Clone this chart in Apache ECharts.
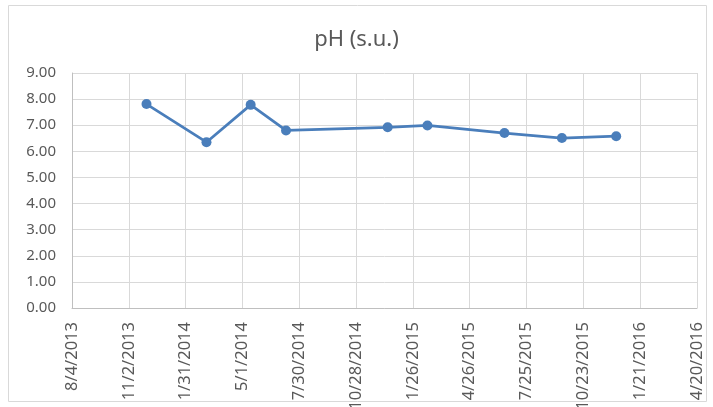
<!DOCTYPE html>
<html>
<head>
<meta charset="utf-8">
<script src="https://cdn.jsdelivr.net/npm/echarts@6/dist/echarts.min.js"></script>
<style>
  html, body { margin: 0; padding: 0; background: #fff; }
  #chart { width: 713px; height: 407px; }
</style>
</head>
<body>
<div id="chart"></div>
<script>
// sample dates (M/D/YYYY) and pH readings
const sampleDates = ['11/30/2013', '3/5/2014', '5/14/2014', '7/9/2014', '12/17/2014',
                     '2/18/2015', '6/20/2015', '9/19/2015', '12/14/2015'];
const phValues = [7.81, 6.35, 7.78, 6.80, 6.92, 6.99, 6.70, 6.51, 6.58];

// x axis: 8/4/2013 .. 4/20/2016, one tick every 90 days (Excel serial numbers)
const xStart = '8/4/2013';
const xEnd = '4/20/2016';
const xStepDays = 90;

const EPOCH = Date.UTC(1899, 11, 30);
function toSerial(s) {
    const p = s.split('/').map(Number);
    return Math.round((Date.UTC(p[2], p[0] - 1, p[1]) - EPOCH) / 86400000);
}
function fromSerial(n) {
    const d = new Date(EPOCH + n * 86400000);
    return (d.getUTCMonth() + 1) + '/' + d.getUTCDate() + '/' + d.getUTCFullYear();
}

const chart = echarts.init(document.getElementById('chart'));
const font = 'Noto Sans';
const textColor = '#595959';

const option = {
    animation: false,
    textStyle: { fontFamily: font },
    title: {
        text: 'pH (s.u.)',
        left: 'center',
        top: 24,
        textStyle: { fontFamily: font, fontSize: 22, fontWeight: 'normal', color: textColor }
    },
    graphic: [{
        type: 'rect',
        shape: { x: 8.5, y: 5.5, width: 698, height: 396 },
        style: { fill: 'none', stroke: '#d9d9d9', lineWidth: 1 },
        silent: true
    }],
    grid: { left: 72, right: 16, top: 73, bottom: 99, containLabel: false, outerBoundsMode: 'none' },
    xAxis: {
        type: 'value',
        min: toSerial(xStart),
        max: toSerial(xEnd),
        interval: xStepDays,
        axisLine: { show: true, lineStyle: { color: '#bfbfbf', width: 1 } },
        axisTick: { show: false },
        splitLine: { show: true, lineStyle: { color: '#d9d9d9', width: 1 } },
        axisLabel: {
            rotate: 90,
            margin: 14,
            fontSize: 16.5,
            color: textColor,
            fontFamily: font,
            showMinLabel: true,
            showMaxLabel: true,
            formatter: function (v) { return fromSerial(v); }
        }
    },
    yAxis: {
        type: 'value',
        min: 0,
        max: 9,
        interval: 1,
        axisLine: { show: true, lineStyle: { color: '#bfbfbf', width: 1 } },
        axisTick: { show: false },
        splitLine: { show: true, lineStyle: { color: '#d9d9d9', width: 1 } },
        axisLabel: {
            margin: 16,
            fontSize: 15,
            color: textColor,
            fontFamily: font,
            formatter: function (v) { return v.toFixed(2); }
        }
    },
    series: [{
        type: 'line',
        data: sampleDates.map(function (d, i) { return [toSerial(d), phValues[i]]; }),
        symbol: 'circle',
        symbolSize: 10,
        lineStyle: { color: '#4a7ebb', width: 2.75 },
        itemStyle: { color: '#4a7ebb' }
    }]
};
chart.setOption(option);
</script>
</body>
</html>
